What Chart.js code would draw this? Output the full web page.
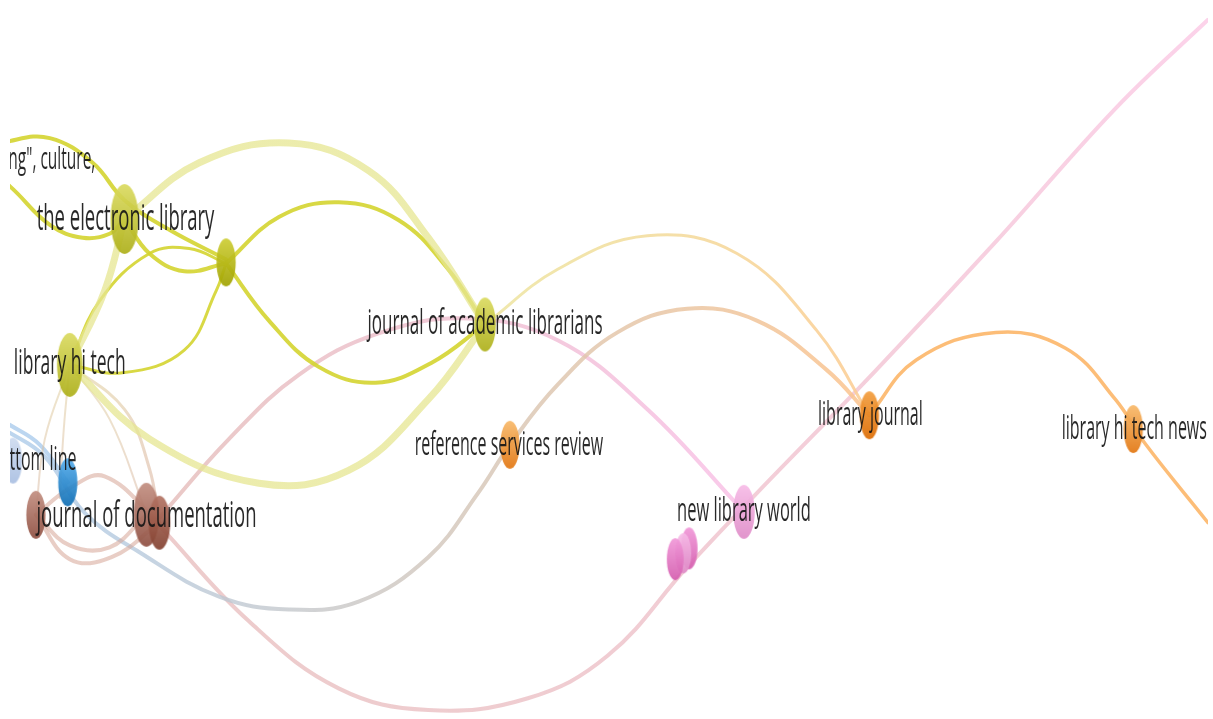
<!DOCTYPE html>
<html>
<head>
<meta charset="utf-8">
<script src="https://cdn.jsdelivr.net/npm/chart.js@4.4.0/dist/chart.umd.min.js"></script>
<style>
html, body { margin: 0; padding: 0; background: #fff; }
#wrap { width: 1213px; height: 719px; position: relative; }
</style>
</head>
<body>
<div id="wrap"><canvas id="mapa"></canvas></div>
<script>
// Nodos del mapa (coordenadas del propio mapa)
const nodeIds = ['electronic', 'y2', 'academic', 'hitech', 'bottomline', 'blue', 'brown', 'doc1', 'doc2',
                 'reference', 'newworld', 'pink2', 'pink3', 'pink1', 'libjournal', 'hitechnews'];
const nodeX = [125, 227, 487, 70, 13, 68, 36, 147, 160, 512, 747, 692, 686, 678, 873, 1138];
const nodeY = [217, 261, 324, 365, 462, 484, 517, 517, 525, 446, 514, 551, 556, 562, 416, 430];
const nodeWeight = [35, 24, 27, 32, 23, 24, 24, 32, 27, 24, 27, 21, 20, 21, 24, 24];
const nodeCluster = ['yellow', 'yellowDark', 'yellow', 'yellow', 'lightblue', 'blue', 'brown', 'brown', 'brownDark',
                     'orange', 'pink', 'pinkDark', 'pink', 'pinkDark', 'orangeDark', 'orange'];

// Etiquetas
const labelText = ['ng", culture,', 'the electronic library', 'journal of academic librarians', 'library hi tech',
                   'the bottom line', 'journal of documentation', 'reference services review', 'new library world',
                   'library journal', 'library hi tech news'];
const labelX = [52, 126, 487, 70, 19, 147, 511, 747, 874, 1139];
const labelY = [157, 217, 324, 364, 462, 519, 447, 514, 417, 431];
const labelSize = [31, 37, 34, 35, 32, 37, 32, 33, 32, 32];

// Enlaces: puntos de paso de cada curva
const edges = [
    { kind: 'yelLight', path: [[125, 217], [200, 160], [290, 140], [370, 168], [430, 236], [487, 324]] },
    { kind: 'yelLight', path: [[70, 365], [150, 440], [260, 485], [350, 472], [430, 400], [487, 324]] },
    { kind: 'yelLight', path: [[70, 365], [105, 290], [125, 217]] },
    { kind: 'yelOrange', path: [[487, 324], [560, 268], [650, 234], [740, 252], [820, 330], [873, 416]] },
    { kind: 'tan', path: [[70, 365], [45, 440], [36, 517]] },
    { kind: 'tan', path: [[70, 365], [64, 430], [60, 500]] },
    { kind: 'tan', path: [[70, 365], [110, 420], [145, 510]] },
    { kind: 'tanWide', path: [[70, 365], [125, 410], [150, 470], [160, 525]] },
    { kind: 'yel', path: [[-20, 150], [10, 138], [50, 135], [93, 160], [125, 198], [170, 228], [227, 258]] },
    { kind: 'yel', path: [[-10, 170], [10, 184], [50, 223], [83, 236], [110, 232], [125, 217]] },
    { kind: 'yel', path: [[125, 217], [150, 252], [185, 270], [227, 262]] },
    { kind: 'yelThin', path: [[70, 365], [100, 300], [150, 252], [190, 247], [227, 262]] },
    { kind: 'yel', path: [[227, 262], [270, 320], [320, 367], [377, 383], [433, 363], [487, 324]] },
    { kind: 'yel', path: [[227, 262], [280, 215], [340, 200], [400, 218], [450, 268], [487, 324]] },
    { kind: 'yelThin', path: [[70, 365], [123, 373], [185, 350], [217, 290], [227, 262]] },
    { kind: 'brown', path: [[36, 517], [70, 548], [110, 550], [147, 517]] },
    { kind: 'brown', path: [[36, 517], [70, 562], [112, 560], [160, 525]] },
    { kind: 'brown', path: [[36, 517], [70, 490], [105, 478], [160, 525]] },
    { kind: 'blue', path: [[-10, 415], [10, 426], [40, 446], [68, 484]] },
    { kind: 'blueOrange', path: [[-10, 424], [10, 434], [45, 458], [85, 515], [140, 555], [220, 600], [290, 613],
                                 [360, 605], [430, 560], [480, 495], [512, 446], [560, 385], [620, 332], [690, 308],
                                 [760, 320], [830, 370], [873, 416]] },
    { kind: 'orange', path: [[873, 416], [920, 360], [1000, 332], [1070, 348], [1120, 400], [1150, 445], [1213, 525], [1240, 560]] },
    { kind: 'brownPink', path: [[160, 520], [230, 440], [300, 375], [380, 333], [470, 318], [560, 340], [650, 410], [747, 514]] },
    { kind: 'brownPinkLong', path: [[160, 528], [250, 625], [340, 693], [430, 715], [530, 703], [610, 660], [690, 570],
                                    [760, 495], [880, 370], [1000, 240], [1120, 105], [1213, 15], [1240, -10]] }
];

// Estilos
const nodeColors = {
    yellow: ['#dcdc62', '#adaf18'],
    yellowDark: ['#cfcf36', '#a0a200'],
    lightblue: ['#cfdcf0', '#a9bfe2'],
    blue: ['#55aeee', '#0e6db3'],
    brown: ['#c49082', '#8e4e40'],
    brownDark: ['#b57565', '#82402f'],
    orange: ['#f9bb6c', '#e2750f'],
    orangeDark: ['#f4a040', '#dc6a00'],
    pink: ['#f8bde8', '#df8cc8'],
    pinkDark: ['#f29ada', '#d45cae']
};

const edgeStyles = {
    yel: { from: 'rgba(212,212,48,0.9)', to: 'rgba(212,212,48,0.9)', width: 4 },
    yelThin: { from: 'rgba(212,212,48,0.9)', to: 'rgba(212,212,48,0.9)', width: 3 },
    yelLight: { from: 'rgba(230,230,145,0.75)', to: 'rgba(230,230,145,0.75)', width: 7 },
    yelOrange: { from: 'rgba(238,230,165,0.9)', to: 'rgba(252,205,150,0.9)', width: 3 },
    tan: { from: 'rgba(222,205,150,0.5)', to: 'rgba(215,180,160,0.5)', width: 2 },
    tanWide: { from: 'rgba(222,205,150,0.55)', to: 'rgba(215,170,155,0.55)', width: 3 },
    brown: { from: 'rgba(214,165,150,0.55)', to: 'rgba(214,165,150,0.55)', width: 4 },
    blue: { from: 'rgba(165,200,235,0.75)', to: 'rgba(165,200,235,0.75)', width: 4 },
    blueOrange: { from: 'rgba(165,200,235,0.75)', to: 'rgba(252,195,140,0.85)', width: 4 },
    orange: { from: 'rgba(252,182,105,0.9)', to: 'rgba(252,182,105,0.9)', width: 3.5 },
    brownPink: { from: 'rgba(222,172,168,0.65)', to: 'rgba(248,185,228,0.75)', width: 4 },
    brownPinkLong: { from: 'rgba(225,170,170,0.6)', to: 'rgba(252,200,230,0.8)', width: 4 }
};

function makeNode(weight, cluster) {
    const c = nodeColors[cluster];
    const ry = weight, rx = weight * 0.4;
    const cv = document.createElement('canvas');
    cv.width = Math.ceil(rx * 2) + 2;
    cv.height = Math.ceil(ry * 2) + 2;
    const g = cv.getContext('2d');
    const grad = g.createLinearGradient(0, 0, 0, cv.height);
    grad.addColorStop(0, c[0]);
    grad.addColorStop(1, c[1]);
    g.globalAlpha = 0.92;
    g.fillStyle = grad;
    g.beginPath();
    g.ellipse(cv.width / 2, cv.height / 2, rx, ry, 0, 0, Math.PI * 2);
    g.fill();
    return cv;
}

function gradientFor(chart, e) {
    const st = edgeStyles[e.kind];
    if (!chart.chartArea) return st.from;
    const xs = chart.scales.x, ys = chart.scales.y;
    const a = e.path[0], b = e.path[e.path.length - 1];
    const g = chart.ctx.createLinearGradient(
        xs.getPixelForValue(a[0]), ys.getPixelForValue(a[1]),
        xs.getPixelForValue(b[0]), ys.getPixelForValue(b[1]));
    g.addColorStop(0, st.from);
    g.addColorStop(1, st.to);
    return g;
}

const edgeDatasets = edges.map(e => ({
    type: 'line',
    data: e.path.map(p => ({ x: p[0], y: p[1] })),
    borderColor: ctx => gradientFor(ctx.chart, e),
    borderWidth: edgeStyles[e.kind].width,
    borderCapStyle: 'round',
    tension: 0.4,
    pointRadius: 0,
    fill: false,
    clip: 0,
    order: 2
}));

const nodeDataset = {
    type: 'scatter',
    data: nodeX.map((v, i) => ({ x: v, y: nodeY[i] })),
    pointStyle: nodeX.map((v, i) => makeNode(nodeWeight[i], nodeCluster[i])),
    clip: 0,
    order: 1
};

// Etiquetas dibujadas encima de los nodos
const labelPlugin = {
    id: 'etiquetas',
    afterDatasetsDraw(chart) {
        const { ctx, chartArea, scales: { x, y } } = chart;
        ctx.save();
        ctx.beginPath();
        ctx.rect(chartArea.left, chartArea.top, chartArea.right - chartArea.left, chartArea.bottom - chartArea.top);
        ctx.clip();
        ctx.fillStyle = 'rgba(22,22,22,0.92)';
        ctx.textAlign = 'center';
        ctx.textBaseline = 'middle';
        labelText.forEach((t, i) => {
            ctx.save();
            ctx.translate(x.getPixelForValue(labelX[i]), y.getPixelForValue(labelY[i]));
            ctx.scale(0.5, 1);
            ctx.font = labelSize[i] + 'px "Open Sans"';
            ctx.fillText(t, 0, 0);
            ctx.restore();
        });
        ctx.restore();
    }
};

new Chart(document.getElementById('mapa'), {
    data: { datasets: [nodeDataset, ...edgeDatasets] },
    options: {
        responsive: true,
        maintainAspectRatio: false,
        animation: false,
        events: [],
        layout: { padding: { left: 10 } },
        plugins: { legend: { display: false }, tooltip: { enabled: false } },
        scales: {
            x: { type: 'linear', min: 10, max: 1213, display: false },
            y: { type: 'linear', min: 0, max: 719, reverse: true, display: false }
        }
    },
    plugins: [labelPlugin]
});
</script>
</body>
</html>
